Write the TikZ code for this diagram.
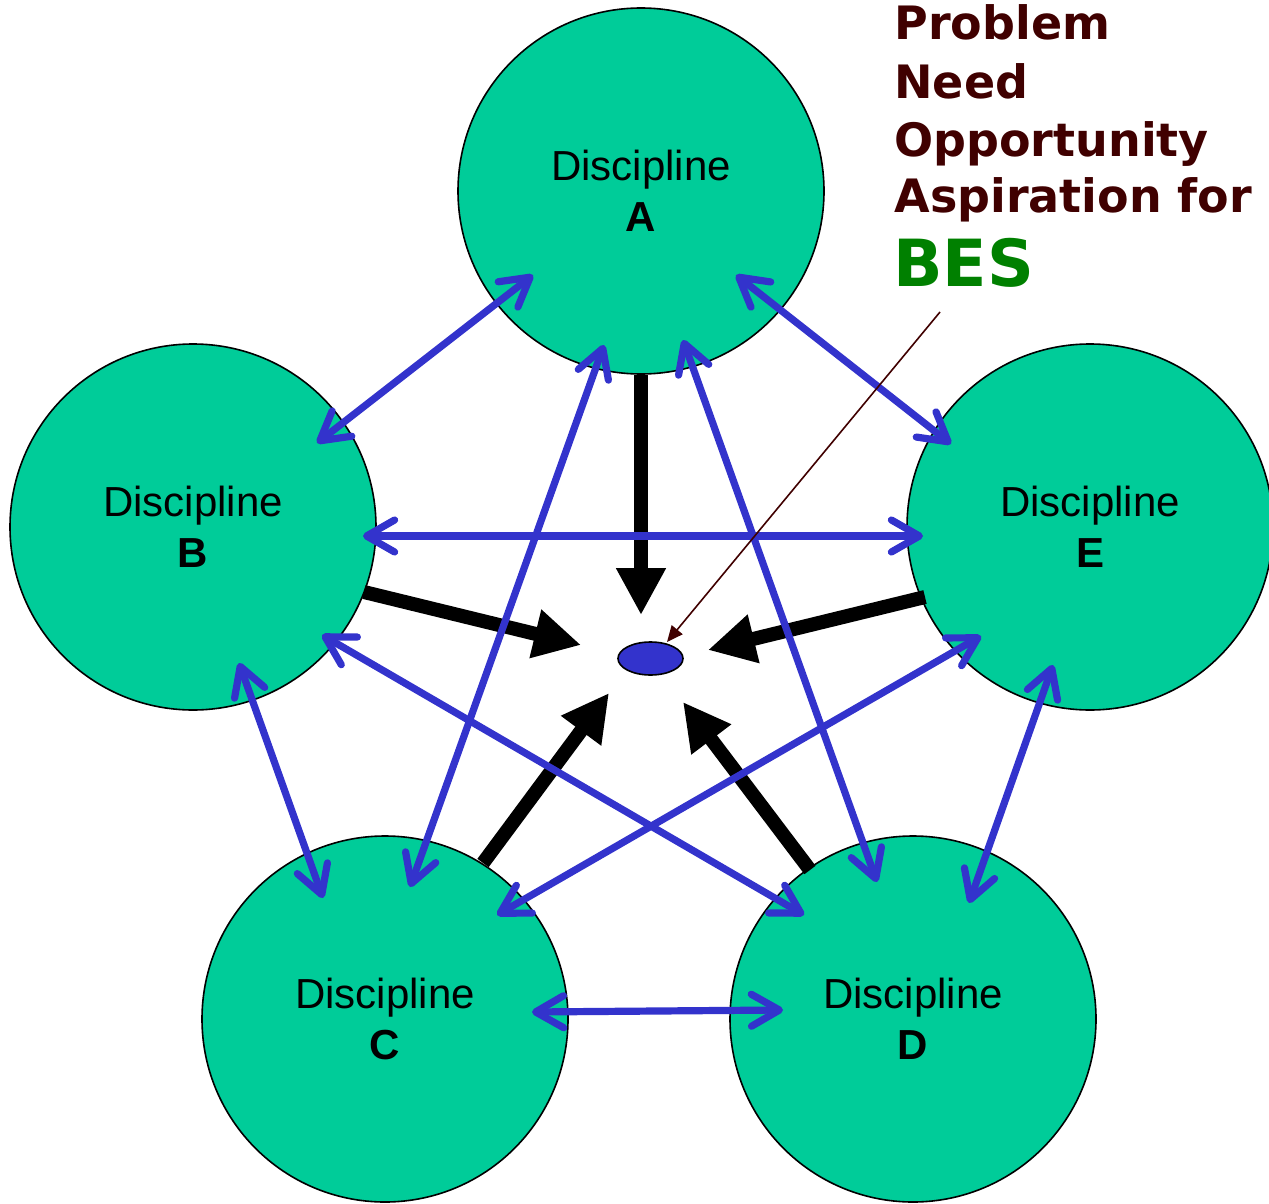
\documentclass[tikz,border=0pt]{standalone}
\usepackage{fontspec}
\setmainfont{Liberation Sans}
\newfontfamily\dvs{DejaVu Sans}
\usetikzlibrary{arrows.meta,calc,shapes.geometric}
\definecolor{discgreen}{RGB}{0,204,153}
\definecolor{arrblue}{RGB}{51,51,204}
\definecolor{darkmaroon}{RGB}{64,0,0}
\definecolor{besgreen}{RGB}{0,128,0}
\begin{document}
\begin{tikzpicture}[x=0.5pt,y=-0.5pt,
  disc/.style={circle, draw=black, line width=0.8pt, fill=discgreen, minimum size=183pt,
    inner sep=0pt, align=center, font=\fontsize{21}{25.5}\selectfont},
  link/.style={draw=arrblue, line width=3.6pt,
    {Straight Barb[length=14pt,width=16pt,round]}-{Straight Barb[length=14pt,width=16pt,round]}},
  feed/.style={draw=black, line width=7pt, -{Triangle[length=23.5pt,width=23.5pt]}},
  lbl/.style={anchor=base west, inner sep=0pt, text=darkmaroon,
    font=\dvs\bfseries\fontsize{23}{27}\selectfont},
  pointer/.style={draw=darkmaroon, line width=0.8pt, -{Triangle[length=8pt,width=7pt]}}
]
\useasboundingbox (0,0) rectangle (1269,1204);

% discipline circles
\node[disc] (A) at (641,191) {Discipline\\\textbf{A}};
\node[disc] (B) at (193,527) {Discipline\\\textbf{B}};
\node[disc] (E) at (1090,527) {Discipline\\\textbf{E}};
\node[disc] (C) at (385,1019) {Discipline\\\textbf{C}};
\node[disc] (D) at (913,1019) {Discipline\\\textbf{D}};

% central focus
\node[ellipse, draw=black, line width=0.8pt, fill=arrblue, minimum width=32.5pt,
  minimum height=16.5pt, inner sep=0pt] (M) at (650.5,658.5) {};

% black arrows toward the focus
\draw[feed] ($(A)+(0,184)$) -- ($(M)+(-9.5,-43.5)$);
\draw[feed] ($(B)+(171,65)$) -- ($(M)+(-69.5,-13.5)$);
\draw[feed] ($(E)+(-165,70)$) -- ($(M)+(57.5,-8.5)$);
\draw[feed] ($(C)+(98,-156)$) -- ($(M)+(-41.5,34.5)$);
\draw[feed] ($(D)+(-103,-149)$) -- ($(M)+(32.5,43.5)$);

% blue two-way links
\draw[link] ($(A)+(-108,84)$) -- ($(B)+(124,-84)$);
\draw[link] ($(A)+(95,84)$) -- ($(E)+(-139,-83)$);
\draw[link] ($(B)+(170,9)$) -- ($(E)+(-167,9)$);
\draw[link] ($(A)+(-37,154)$) -- ($(C)+(25,-132)$);
\draw[link] ($(A)+(42,149)$) -- ($(D)+(-36,-137)$);
\draw[link] ($(B)+(46,136)$) -- ($(C)+(-62,-121)$);
\draw[link] ($(E)+(-37,138)$) -- ($(D)+(56,-116)$);
\draw[link] ($(C)+(147,-7)$) -- ($(D)+(-130,-9)$);
\draw[link] ($(B)+(129,108)$) -- ($(D)+(-109,-104)$);
\draw[link] ($(E)+(-109,109)$) -- ($(C)+(112,-104)$);

% label
\node[lbl] (t1) at (894,40) {Problem};
\node[lbl] (t2) at (894,98) {Need};
\node[lbl] (t3) at (894,156) {Opportunity};
\node[lbl] (t4) at (894,213) {Aspiration for};
\node[anchor=base west, inner sep=0pt, text=besgreen,
  font=\dvs\bfseries\fontsize{32.5}{36}\selectfont] (t5) at (893,286) {BES};
\coordinate (ptr) at (940,312);
\draw[pointer] (ptr) -- ($(M)+(16.5,-16.5)$);
\end{tikzpicture}
\end{document}
